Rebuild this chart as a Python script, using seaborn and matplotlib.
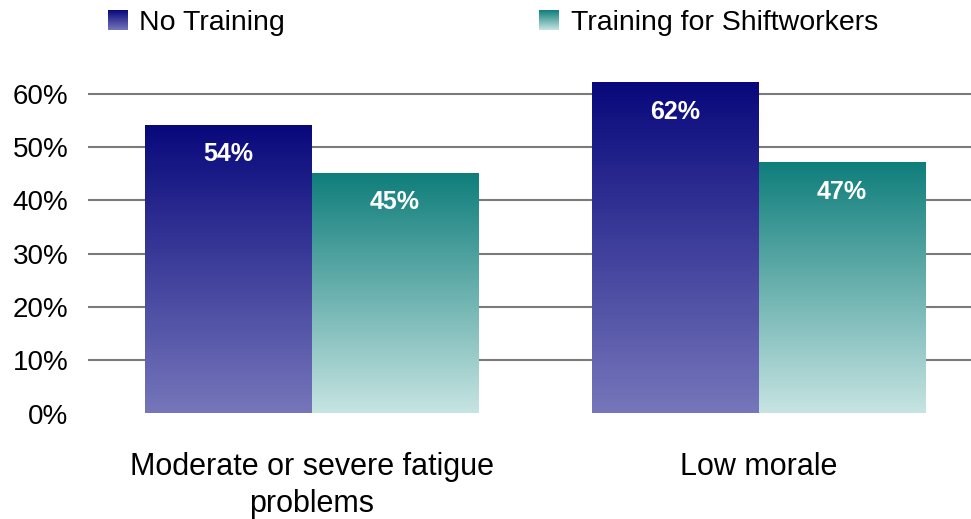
import numpy as np
import pandas as pd
import matplotlib
matplotlib.use("Agg")
import matplotlib.pyplot as plt
import matplotlib.colors as mcolors
import seaborn as sns

categories = ["Moderate or severe fatigue\nproblems", "Low morale"]
series_names = ["No Training", "Training for Shiftworkers"]
no_training = [54, 62]
training = [45, 47]
yticks = [0, 10, 20, 30, 40, 50, 60]

df = pd.DataFrame({
    "category": categories * 2,
    "series": [series_names[0]] * 2 + [series_names[1]] * 2,
    "value": no_training + training,
})

grad = {
    series_names[0]: ("#08087c", "#7676bb"),
    series_names[1]: ("#0f7e7b", "#c6e4e2"),
}

sns.set_theme(style="white")
plt.rcParams["font.family"] = ["Liberation Sans", "DejaVu Sans"]
plt.rcParams["text.color"] = "black"
plt.rcParams["xtick.color"] = "black"
plt.rcParams["ytick.color"] = "black"

W, H = 971, 519
fig = plt.figure(figsize=(W / 100, H / 100), dpi=100)
ax_left, ax_right, ax_bottom, ax_top = 88, 982, 413.5, 62
ax = fig.add_axes([ax_left / W, (H - ax_bottom) / H, (ax_right - ax_left) / W, (ax_bottom - ax_top) / H])

sns.barplot(data=df, x="category", y="value", hue="series", hue_order=series_names,
            order=categories, width=0.745, gap=0, ax=ax, legend=False,
            palette=[grad[s][0] for s in series_names], saturation=1, errorbar=None)

ylim = (0, 66)
xlim = ax.get_xlim()


def gradient_img(top, bottom, n=256):
    t = mcolors.to_rgb(top)
    b = mcolors.to_rgb(bottom)
    f = np.linspace(0, 1, n)[:, None]
    arr = np.array(b)[None, :] * (1 - f) + np.array(t)[None, :] * f
    return arr[:, None, :]

patches = list(ax.patches)
idx = 0
for s in series_names:
    for c in categories:
        p = patches[idx]
        idx += 1
        x0, w, h = p.get_x(), p.get_width(), p.get_height()
        p.set_visible(False)
        ax.imshow(gradient_img(*grad[s]), extent=[x0, x0 + w, 0, h], origin="lower",
                  aspect="auto", zorder=3, interpolation="bilinear")
        ax.annotate(f"{h:.0f}%", (x0 + w / 2, h), xytext=(0, -20.5), textcoords="offset points",
                    ha="center", va="center", color="white", fontsize=18, fontweight="bold", zorder=4)

ax.set_xlim(xlim)
ax.set_ylim(ylim)
ax.set_yticks(yticks)
ax.set_yticklabels([f"{v}%" for v in yticks], fontsize=20, color="black")
for v in yticks[1:]:
    ax.axhline(v, color="#7a7a7a", lw=1.5, zorder=1)
ax.tick_params(axis="y", length=0, pad=14)
ax.tick_params(axis="x", length=0, pad=28, labelsize=22, labelcolor="black")
for lbl in ax.get_xticklabels():
    lbl.set_linespacing(1.3)
ax.set_xlabel("")
ax.set_ylabel("")
for sp in ax.spines.values():
    sp.set_visible(False)

# legend
leg_items = [(series_names[0], 108, 139), (series_names[1], 539, 571)]
for name, sx, tx in leg_items:
    lax = fig.add_axes([sx / W, (H - 30) / H, 20 / W, 20 / H])
    lax.imshow(gradient_img(*grad[name]), origin="lower", aspect="auto", extent=[0, 1, 0, 1])
    lax.set_axis_off()
    fig.text(tx / W, (H - 23) / H, name, fontsize=20.5, ha="left", va="center", color="black")

fig.savefig("out.png", dpi=100)
